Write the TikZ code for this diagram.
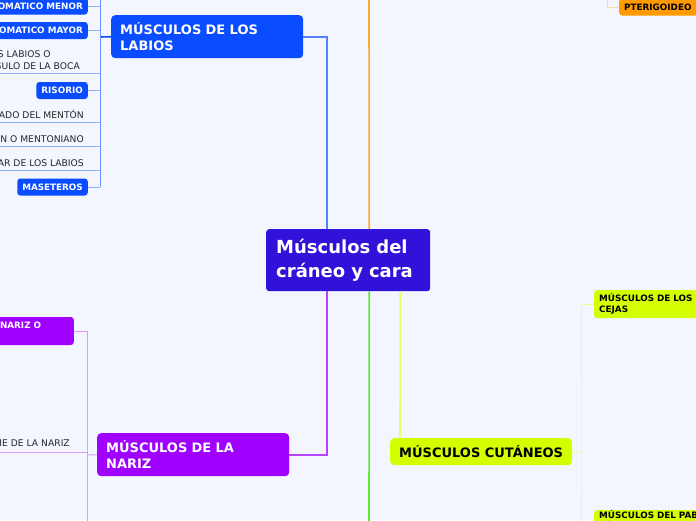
\documentclass[tikz,border=0pt]{standalone}
\usepackage{fontspec}
\setmainfont{DejaVu Sans}
\usepackage{xcolor}
\usepackage{tikz}
\usetikzlibrary{positioning}

\definecolor{pagebg}{HTML}{F3F6FE}
\definecolor{rootc}{HTML}{3212D8}
\definecolor{labiosc}{HTML}{0A4CFF}
\definecolor{narizc}{HTML}{A000FF}
\definecolor{cutc}{HTML}{D4FF00}
\definecolor{orangec}{HTML}{FF9A00}
\definecolor{greenc}{HTML}{55EE33}

\begin{document}
\begin{tikzpicture}[x=1pt, y=-1pt,
    root/.style={fill=rootc, text=white, rounded corners=3pt, anchor=north west,
        font=\fontsize{18}{24}\selectfont\bfseries, align=left, text width=144pt,
        inner xsep=10pt, minimum height=62pt},
    topic/.style={rounded corners=4pt, anchor=north west, align=left,
        font=\fontsize{13}{16}\selectfont\bfseries, inner xsep=9pt},
    subtopic/.style={rounded corners=3pt, align=left, inner xsep=5pt, inner ysep=0pt,
        font=\fontsize{8.8}{11}\selectfont\bfseries, minimum height=17pt},
    leaf/.style={align=left, inner xsep=0pt, inner ysep=3.5pt, text=black!85,
        font=\fontsize{9.2}{12}\selectfont},
    mainline/.style={line width=1.6pt},
    subline/.style={line width=0.9pt}]

    \path[use as bounding box, fill=pagebg] (0,0) rectangle (696,520);
    \clip (0,0) rectangle (696,520);

    \node[root] (craneo) at (266,229) {Músculos del cráneo y cara};

    \node[topic, fill=labiosc, text=white, text width=174pt, minimum height=43pt] (labios) at (111,15) {MÚSCULOS DE LOS LABIOS};
    \node[topic, fill=narizc, text=white, text width=174pt, minimum height=43pt] (nariz) at (97,433) {MÚSCULOS DE LA NARIZ};
    \node[topic, fill=cutc, text=black, minimum width=181pt, minimum height=27pt] (cutaneos) at (390,438) {MÚSCULOS CUTÁNEOS};

    \node[subtopic, fill=labiosc, text=white, anchor=east] (zmenor) at (88,6) {CIGOMATICO MENOR};
    \node[subtopic, fill=labiosc, text=white, anchor=east] (zmayor) at (88,30.5) {CIGOMATICO MAYOR};
    \node[leaf, anchor=south east] (triangular) at (80,73.5) {TRIANGULAR DE LOS LABIOS O\\DEPRESOR DEL ÁNGULO DE LA BOCA};
    \node[subtopic, fill=labiosc, text=white, anchor=east] (risorio) at (88,90.5) {RISORIO};
    \node[leaf, anchor=south east] (cuadrado) at (84,122) {CUADRADO DEL MENTÓN};
    \node[leaf, anchor=south east] (borla) at (84,146) {BORLA DEL MENTÓN O MENTONIANO};
    \node[leaf, anchor=south east] (orbicular) at (84,170) {ORBICULAR DE LOS LABIOS};
    \node[subtopic, fill=labiosc, text=white, anchor=east] (maseteros) at (88,187) {MASETEROS};

    \node[subtopic, fill=narizc, text=white, anchor=east, text width=170pt, minimum height=28pt] (transverso) at (74,331) {TRANSVERSO DE LA NARIZ O\\COMPRESOR};
    \node[leaf, anchor=south east, inner ysep=5.5pt] (mirtiforme) at (70,452.6) {MIRTIFORME DE LA NARIZ};

    \node[subtopic, fill=cutc, text=black, anchor=north west, text width=130pt, minimum height=28pt] (cejas) at (594,290) {MÚSCULOS DE LOS\\CEJAS};
    \node[subtopic, fill=cutc, text=black, anchor=north west, text width=130pt, minimum height=28pt] (pabellon) at (594,510) {MÚSCULOS DEL PABELLÓN\\DE LA OREJA};

    \node[subtopic, fill=orangec, text=black, anchor=west, text width=90pt] (pterigoideo) at (619,7) {PTERIGOIDEO};

    \coordinate (lbus) at (100,37);
    \coordinate (ltop) at (100,-4);
    \coordinate (nbus) at (87,455);
    \coordinate (nbot) at (87,526);
    \coordinate (cbus) at (581,452);
    \coordinate (otop) at (607,-4);
    \coordinate (otrunk) at (369,-4);
    \coordinate (gtrunk) at (369,526);

    \draw[mainline, color=labiosc!70] (labios.east) -| ([xshift=-21pt]craneo.north);
    \draw[mainline, color=orangec!85] ([xshift=21pt]craneo.north) -- (otrunk);
    \draw[mainline, color=narizc!75] ([xshift=-21pt]craneo.south) |- (nariz.east);
    \draw[mainline, color=greenc] ([xshift=21pt]craneo.south) -- (gtrunk);
    \draw[mainline, color=cutc!60] ([xshift=52pt]craneo.south) -- ([xshift=10pt]cutaneos.north west);

    \draw[line width=1.6pt, color=labiosc] (labios.west) -- (lbus);
    \draw[subline, color=labiosc!60] (ltop) -- (lbus |- maseteros.east);
    \path[subline, draw=labiosc!45]
        (zmenor.east) edge (zmenor.east -| lbus)
        (zmayor.east) edge (zmayor.east -| lbus)
        (triangular.south west) edge (triangular.south -| lbus)
        (risorio.east) edge (risorio.east -| lbus)
        (cuadrado.south west) edge (cuadrado.south -| lbus)
        (borla.south west) edge (borla.south -| lbus)
        (orbicular.south west) edge (orbicular.south -| lbus)
        (maseteros.east) edge (maseteros.east -| lbus);

    \path[subline, draw=narizc!40]
        (nariz.west) edge (nbus)
        (transverso.east) edge (transverso.east -| nbus)
        (transverso.east -| nbus) edge (nbot)
        (mirtiforme.south west) edge (mirtiforme.south -| nbus);

    \draw[subline, color=cutc!45] (cutaneos.east) -- (cbus);
    \draw[subline, color=cutc!45] (cejas.west) -| (cbus) |- (pabellon.west);

    \draw[subline, color=orangec!35] (pterigoideo.west) -| (otop);
\end{tikzpicture}
\end{document}
